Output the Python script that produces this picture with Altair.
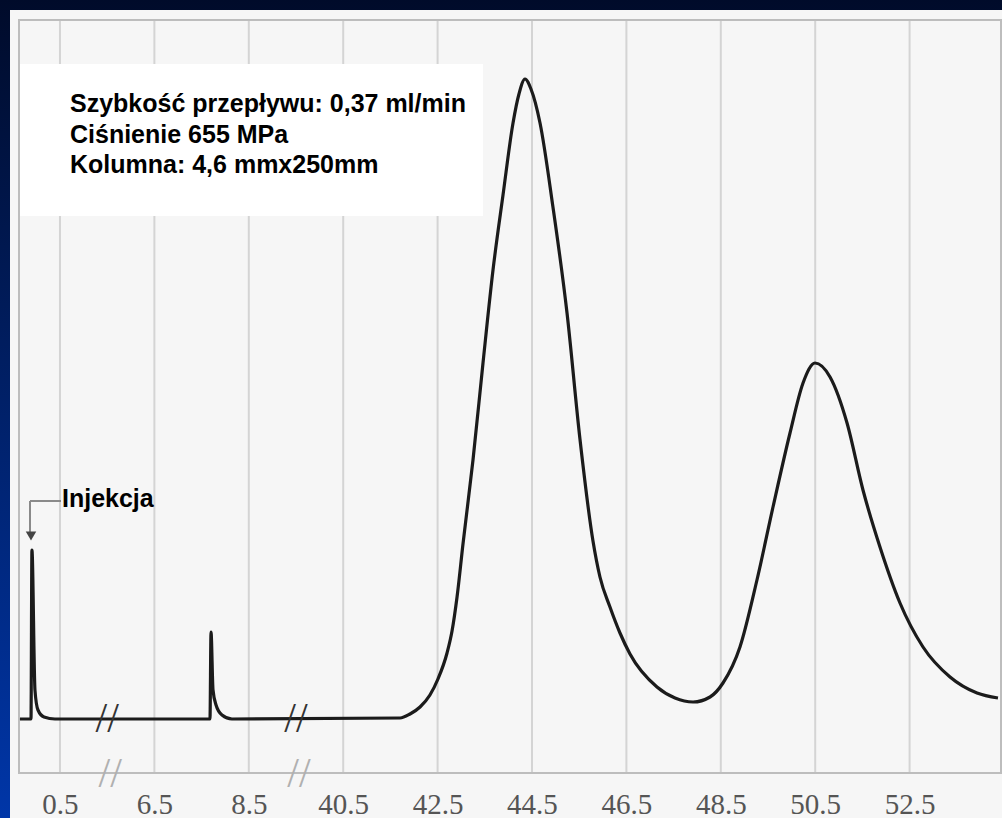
import altair as alt
import pandas as pd

# Axis: evenly spaced (broken) time axis; tick positions 0..9 carry these labels
tick_pos = [0, 1, 2, 3, 4, 5, 6, 7, 8, 9]
tick_labels = ["0.5", "6.5", "8.5", "40.5", "42.5", "44.5", "46.5", "48.5", "50.5", "52.5"]

# Chromatogram trace (x in tick-grid units, y = detector signal above baseline)
curve_x = [-0.424, -0.307, -0.297, -0.265, -0.233, -0.169, -0.053,
           1.589, 1.600, 1.621, 1.653, 1.716, 1.822,
           3.602, 3.708, 3.814, 3.919, 4.004, 4.100, 4.153, 4.206, 4.269, 4.375, 4.481,
           4.587, 4.693, 4.799, 4.862, 4.926, 4.989, 5.085, 5.222, 5.371, 5.508,
           5.646, 5.720, 5.826, 5.932, 6.038, 6.324, 6.515, 6.706, 6.886, 7.023, 7.203, 7.383,
           7.553, 7.733, 7.871, 7.998, 8.157, 8.337, 8.506, 8.686, 8.898, 9.142,
           9.428, 9.714, 9.936]
curve_y = [0, 0, 169, 29, 9, 2, 0,
           0, 87, 29, 14, 4, 0,
           1, 5, 12, 24, 40, 66, 88, 122, 175, 259, 356,
           449, 524, 596, 625, 640, 630, 596, 512, 406, 280,
           178, 142, 112, 86, 65, 32, 21, 17, 22, 36, 72, 139,
           212, 286, 336, 356, 342, 296, 229, 172, 116, 72,
           42, 26, 21]

# Axis-break positions (between 0.5|6.5 and 8.5|40.5)
break_pos = [0.5, 2.5]

info_lines = ["Szybkość przepływu: 0,37 ml/min", "Ciśnienie 655 MPa", "Kolumna: 4,6 mmx250mm"]
inject_label = "Injekcja"

W, H = 982, 753
x_dom = [-0.434, 9.968]
y_dom = [-54, 699]

curve_df = pd.DataFrame({"p": curve_x, "v": curve_y})
ticks_df = pd.DataFrame({"p": tick_pos})
breaks_df = pd.DataFrame({"p": break_pos, "v": [0] * len(break_pos)})
one = pd.DataFrame({"a": [0]})
info_df = pd.DataFrame({"t": info_lines, "i": list(range(len(info_lines)))})

xs = alt.Scale(domain=x_dom, nice=False, zero=False)
ys = alt.Scale(domain=y_dom, nice=False, zero=False)

label_expr = "[" + ",".join("'%s'" % s for s in tick_labels) + "][datum.value]"

bg = alt.Chart(one).mark_rect(
    color=alt.Gradient(
        gradient="linear",
        stops=[alt.GradientStop(color="#000b2a", offset=0),
               alt.GradientStop(color="#0036a8", offset=1)],
        x1=0, x2=0, y1=0, y2=1,
    )
).encode(x=alt.value(-19), x2=alt.value(983), y=alt.value(-20), y2=alt.value(798))

panel = alt.Chart(one).mark_rect(color="#f6f6f6").encode(
    x=alt.value(-9), x2=alt.value(983), y=alt.value(-10), y2=alt.value(798)
)

grid = alt.Chart(ticks_df).mark_rule(color="#d4d4d4", strokeWidth=2).encode(
    x=alt.X("p:Q", scale=xs,
            axis=alt.Axis(values=tick_pos, labelExpr=label_expr, grid=False, ticks=False,
                          tickSize=0, domain=False, title=None, labelFont="Liberation Serif",
                          labelFontSize=29, labelColor="#555555", labelPadding=40,
                          labelBaseline="alphabetic", labelOverlap=False, labelFlush=False,
                          zindex=5)),
    y=alt.value(0), y2=alt.value(H),
)

frame = alt.Chart(one).mark_rect(filled=False, stroke="#bdbdbd", strokeWidth=2).encode(
    x=alt.value(0), x2=alt.value(W), y=alt.value(0), y2=alt.value(H)
)

box = alt.Chart(one).mark_rect(color="#ffffff").encode(
    x=alt.value(1), x2=alt.value(464), y=alt.value(44), y2=alt.value(196)
)

line = alt.Chart(curve_df).mark_line(color="#1b1b1b", strokeWidth=3.2, interpolate="monotone").encode(
    x=alt.X("p:Q", scale=xs), y=alt.Y("v:Q", scale=ys, axis=None)
)

breaks_top = alt.Chart(breaks_df).mark_text(
    text="//", font="Liberation Serif", fontSize=42, color="#333333", baseline="middle", align="center"
).encode(x=alt.X("p:Q", scale=xs), y=alt.Y("v:Q", scale=ys, axis=None))

breaks_bot = alt.Chart(breaks_df).mark_text(
    text="//", font="Liberation Serif", fontSize=42, color="#b0b0b0", baseline="middle", align="center", dx=3
).encode(x=alt.X("p:Q", scale=xs), y=alt.value(H + 1))

info = alt.Chart(info_df).mark_text(
    font="Liberation Sans", fontWeight="bold", fontSize=25, color="#000000",
    align="left", baseline="alphabetic"
).encode(
    x=alt.value(51),
    y=alt.Y("i:Q", scale=alt.Scale(domain=[0, 2], range=[92, 153]), axis=None),
    text="t:N",
)

inj = alt.Chart(one).mark_text(
    text=inject_label, font="Liberation Sans", fontWeight="bold", fontSize=25, color="#000000",
    align="left", baseline="alphabetic"
).encode(x=alt.value(43), y=alt.value(487))

arrow_h = alt.Chart(one).mark_rule(color="#8a8a8a", strokeWidth=2).encode(
    x=alt.value(11), x2=alt.value(42), y=alt.value(481)
)
arrow_v = alt.Chart(one).mark_rule(color="#8a8a8a", strokeWidth=2).encode(
    x=alt.value(11), y=alt.value(481), y2=alt.value(512)
)
arrow_head = alt.Chart(one).mark_point(shape="triangle-down", filled=True, color="#444444", size=110, opacity=1).encode(
    x=alt.value(12), y=alt.value(516)
)

chart = alt.layer(
    bg, panel, grid, frame, box, line, breaks_top, breaks_bot, info, inj, arrow_h, arrow_v, arrow_head
).properties(
    width=W, height=H,
    autosize=alt.AutoSizeParams(type="none"),
    padding={"left": 19, "top": 20, "right": 1, "bottom": 45},
).resolve_scale(y="independent").configure_view(stroke=None).configure(background="#0a1f66")

chart.save("out.html", embed_options={"renderer": "svg", "actions": False})
